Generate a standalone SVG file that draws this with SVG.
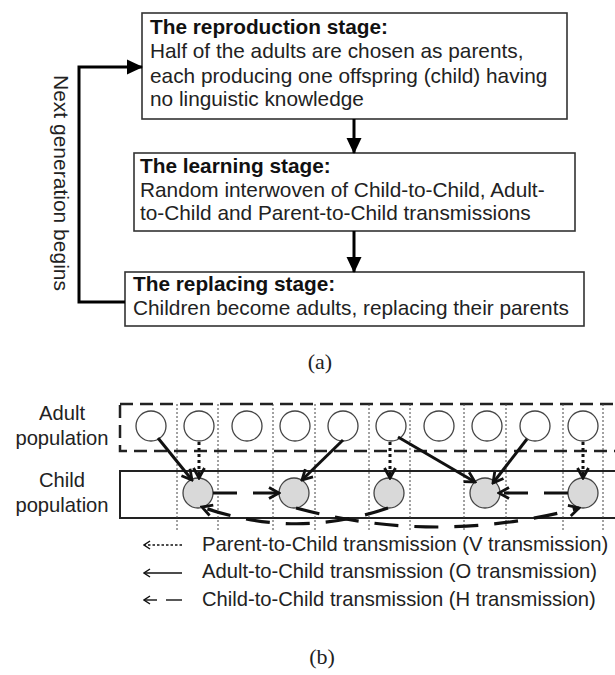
<svg xmlns="http://www.w3.org/2000/svg" width="615" height="675" viewBox="0 0 615 675">
<style>
  .box { fill: #fff; stroke: #333; stroke-width: 1.6; }
  .t { font-family: "Liberation Sans", Arial, sans-serif; font-size: 20.8px; fill: #222; }
  .tb { font-weight: bold; fill: #111; }
  .lbl { font-family: "Liberation Sans", Arial, sans-serif; font-size: 20.2px; fill: #222; }
  .cap { font-family: "Liberation Serif", "Times New Roman", serif; font-size: 22px; fill: #222; }
  .flow { stroke: #000; stroke-width: 3; fill: none; }
  .adult { fill: #fff; stroke: #444; stroke-width: 1.3; }
  .child { fill: #d9d9d9; stroke: #444; stroke-width: 1.3; }
  .grid { stroke: #444; stroke-width: 1; stroke-dasharray: 2 2; }
  .o { stroke: #111; stroke-width: 3; fill: none; marker-end: url(#open); }
  .v { stroke: #111; stroke-width: 3; fill: none; stroke-dasharray: 3 3; marker-end: url(#open); }
  .h { stroke: #111; stroke-width: 3.2; fill: none; stroke-dasharray: 24 16; marker-end: url(#open); }
  .leg { stroke: #111; stroke-width: 1.4; fill: none; }
</style>
<defs>
  <marker id="fill" markerUnits="userSpaceOnUse" markerWidth="16" markerHeight="16" viewBox="0 0 16 16" refX="15" refY="8" orient="auto">
    <path d="M0,0.5 L16,8 L0,15.5 Z" fill="#000"/>
  </marker>
  <marker id="open" markerUnits="userSpaceOnUse" markerWidth="14" markerHeight="14" viewBox="0 0 14 14" refX="12" refY="7" orient="auto">
    <path d="M2,1.5 L12,7 L2,12.5" fill="none" stroke="#111" stroke-width="2.8" stroke-dasharray="none"/>
  </marker>
  <marker id="legopen" markerUnits="userSpaceOnUse" markerWidth="10" markerHeight="10" viewBox="0 0 10 10" refX="9" refY="5" orient="auto">
    <path d="M3,1 L9,5 L3,9" fill="none" stroke="#111" stroke-width="1.5"/>
  </marker>
</defs>

<!-- (a) flow chart -->
<g id="reproduction">
  <rect class="box" x="142" y="13" width="425" height="106"/>
  <text class="t tb" x="150" y="34">The reproduction stage:</text>
  <text class="t" x="150" y="58">Half of the adults are chosen as parents,</text>
  <text class="t" x="150" y="83">each producing one offspring (child) having</text>
  <text class="t" x="150" y="106">no linguistic knowledge</text>
</g>
<g id="learning">
  <rect class="box" x="134" y="153" width="441" height="78"/>
  <text class="t tb" x="140" y="173">The learning stage:</text>
  <text class="t" x="140" y="197">Random interwoven of Child-to-Child, Adult-</text>
  <text class="t" x="140" y="220">to-Child and Parent-to-Child transmissions</text>
</g>
<g id="replacing">
  <rect class="box" x="125" y="272" width="459" height="54"/>
  <text class="t tb" x="133" y="291">The replacing stage:</text>
  <text class="t" x="133" y="315">Children become adults, replacing their parents</text>
</g>
<g id="flow-connectors">
  <line class="flow" x1="354" y1="119" x2="354" y2="153" marker-end="url(#fill)"/>
  <line class="flow" x1="354" y1="231" x2="354" y2="272" marker-end="url(#fill)"/>
  <polyline class="flow" points="125,302 79,302 79,67 142,67" marker-end="url(#fill)"/>
</g>
<text class="t" transform="translate(54,75) rotate(90)" style="font-size:21px">Next generation begins</text>
<text class="cap" x="320" y="369" text-anchor="middle">(a)</text>

<!-- (b) populations -->
<g id="populations">
  <rect x="120" y="404" width="510" height="47" fill="none" stroke="#222" stroke-width="2.5" stroke-dasharray="13 7"/>
  <rect x="120" y="471" width="510" height="47" fill="none" stroke="#222" stroke-width="2"/>
  <line class="grid" x1="177" y1="404" x2="177" y2="531"/>
  <line class="grid" x1="218" y1="404" x2="218" y2="531"/>
  <line class="grid" x1="273" y1="404" x2="273" y2="531"/>
  <line class="grid" x1="315" y1="404" x2="315" y2="531"/>
  <line class="grid" x1="369" y1="404" x2="369" y2="531"/>
  <line class="grid" x1="410" y1="404" x2="410" y2="531"/>
  <line class="grid" x1="464" y1="404" x2="464" y2="531"/>
  <line class="grid" x1="506" y1="404" x2="506" y2="531"/>
  <line class="grid" x1="563" y1="404" x2="563" y2="531"/>
  <line class="grid" x1="603" y1="404" x2="603" y2="531"/>
  <text class="lbl" x="62" y="420" text-anchor="middle">Adult</text>
  <text class="lbl" x="62" y="445" text-anchor="middle">population</text>
  <text class="lbl" x="62" y="487" text-anchor="middle">Child</text>
  <text class="lbl" x="62" y="512" text-anchor="middle">population</text>
</g>
<g id="adults">
  <circle class="adult" cx="151" cy="426" r="15"/>
  <circle class="adult" cx="199" cy="426" r="15"/>
  <circle class="adult" cx="247" cy="426" r="15"/>
  <circle class="adult" cx="295" cy="426" r="15"/>
  <circle class="adult" cx="343" cy="426" r="15"/>
  <circle class="adult" cx="391" cy="426" r="15"/>
  <circle class="adult" cx="439" cy="426" r="15"/>
  <circle class="adult" cx="487" cy="426" r="15"/>
  <circle class="adult" cx="535" cy="426" r="15"/>
  <circle class="adult" cx="583" cy="426" r="15"/>
</g>
<g id="children">
  <circle class="child" cx="198" cy="493" r="15"/>
  <circle class="child" cx="294" cy="493" r="15"/>
  <circle class="child" cx="389" cy="493" r="15"/>
  <circle class="child" cx="485" cy="493" r="15"/>
  <circle class="child" cx="583" cy="493" r="15"/>
</g>
<g id="transmissions">
  <line class="o" x1="158" y1="438" x2="192" y2="480"/>
  <line class="v" x1="199" y1="442" x2="199" y2="478"/>
  <line class="h" x1="213" y1="493" x2="279" y2="493" stroke-dasharray="25 17"/>
  <line class="o" x1="343" y1="440" x2="302" y2="480"/>
  <line class="v" x1="390" y1="442" x2="390" y2="478"/>
  <line class="o" x1="398" y1="437" x2="475" y2="482"/>
  <line class="o" x1="527" y1="439" x2="493" y2="483"/>
  <line class="h" x1="568" y1="493" x2="499" y2="493" stroke-dasharray="25 17"/>
  <line class="v" x1="583" y1="442" x2="583" y2="478"/>
  <path class="h" d="M388,508 Q295,540 202,507"/>
  <path class="h" d="M296,508 Q437,546 579,508"/>
</g>

<!-- legend -->
<g id="legend">
  <line class="leg" x1="182" y1="545" x2="144" y2="545" stroke-dasharray="2.5 2" marker-end="url(#legopen)"/>
  <text class="lbl" x="202" y="551">Parent-to-Child transmission (V transmission)</text>
  <line class="leg" x1="182" y1="573" x2="144" y2="573" marker-end="url(#legopen)"/>
  <text class="lbl" x="202" y="578">Adult-to-Child transmission (O transmission)</text>
  <line class="leg" x1="157" y1="600" x2="144" y2="600" marker-end="url(#legopen)"/>
  <line class="leg" x1="166" y1="600" x2="182" y2="600"/>
  <text class="lbl" x="202" y="606">Child-to-Child transmission (H transmission)</text>
</g>
<text class="cap" x="322" y="664" text-anchor="middle">(b)</text>
</svg>
